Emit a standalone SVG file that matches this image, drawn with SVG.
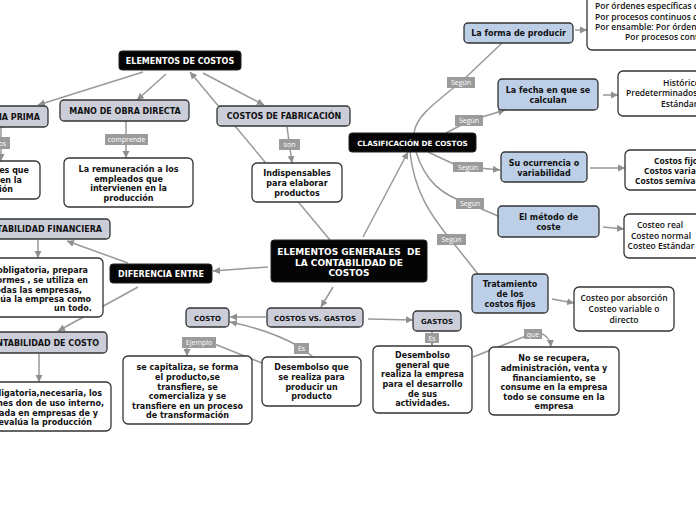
<svg xmlns="http://www.w3.org/2000/svg" width="696" height="520" viewBox="0 0 696 520">
<defs>
<marker id="ar" markerUnits="userSpaceOnUse" markerWidth="8" markerHeight="8" refX="7" refY="4" orient="auto">
<path d="M0,0.5 L7,4 L0,7.5 z" fill="#8f8f8f"/>
</marker>
</defs>
<style>
.c{fill:none;stroke:#999;stroke-width:1.5}
.a{marker-end:url(#ar)}
.blk{fill:#050505;stroke:#222;stroke-width:1}
.gry{fill:#cbcdd9;stroke:#333;stroke-width:1.3}
.blu{fill:#bccfe7;stroke:#333;stroke-width:1.3}
.wht{fill:#fff;stroke:#333;stroke-width:1.3}
.lab{fill:#9b9b9b}
text{font-family:"DejaVu Sans",Verdana,sans-serif;font-weight:bold;font-size:8px;fill:#111;text-anchor:middle}
.tw{fill:#fff}
.tl{font-family:"Open Sans","DejaVu Sans",sans-serif;font-weight:normal;font-size:7px;fill:#fff}
.tr{font-family:"Open Sans","DejaVu Sans",sans-serif;font-weight:600;font-size:8.5px;fill:#111}
.tb{font-family:"Open Sans","DejaVu Sans",sans-serif;font-weight:700;font-size:8.5px;fill:#111}
.s{text-anchor:start}
.e{text-anchor:end}
</style>
<rect width="696" height="520" fill="#fff"/>
<g id="connectors">
<path class="c a" d="M143,72 L38,105"/>
<path class="c a" d="M166,74 L137,100"/>
<path class="c a" d="M203,73 L264,105"/>
<path class="c a" d="M330,240 L190,72"/>
<path class="c a" d="M126,121 L126,158"/>
<path class="c a" d="M287,127 L292,163"/>
<path class="c a" d="M1,127 L1,161"/>
<path class="c a" d="M363,237 L408,152"/>
<path class="c" d="M414,133 C416,118 428,108 461,82 L502,43"/>
<path class="c a" d="M446,133 L469,121 L505,110"/>
<path class="c a" d="M428,152 L458,166 L500,170"/>
<path class="c" d="M416,152 C425,180 440,195 470,204 L498,216"/>
<path class="c" d="M410,152 C414,190 430,215 451,240 L478,274"/>
<path class="c a" d="M575,30 L587,30"/>
<path class="c a" d="M603,95 L618,95"/>
<path class="c a" d="M590,168 L625,168"/>
<path class="c a" d="M603,227 L624,229"/>
<path class="c a" d="M552,299 L574,303"/>
<path class="c a" d="M268,267 L213,271"/>
<path class="c a" d="M128,263 L67,241"/>
<path class="c a" d="M138,287 L58,331"/>
<path class="c a" d="M38,240 L38,258"/>
<path class="c a" d="M39,354 L39,382"/>
<path class="c a" d="M333,287 L321,307"/>
<path class="c a" d="M266,317 L230,317"/>
<path class="c a" d="M313,357 L300,347 Q270,330 230,322"/>
<path class="c a" d="M262,363 L212,343 L187,343 L187,356"/>
<path class="c a" d="M368,319 L413,320"/>
<path class="c a" d="M432,331 L432,346"/>
<path class="c" d="M473,357 L526,336"/>
<path class="c a" d="M540,333 Q550,336 551,347"/>
</g>
<g id="elementos-de-costos"><rect class="blk" x="119" y="51" width="122" height="19" rx="3"/><text class="tw" x="180" y="63.5">ELEMENTOS DE COSTOS</text></g>
<g id="materia-prima"><rect class="gry" x="-50" y="106" width="98" height="21" rx="4"/><text class="e" x="40" y="120">MATERIA PRIMA</text></g>
<g id="mano-de-obra"><rect class="gry" x="60" y="100" width="129" height="21" rx="4"/><text x="125" y="113.5">MANO DE OBRA DIRECTA</text></g>
<g id="costos-fabricacion"><rect class="gry" x="217" y="106" width="133" height="20" rx="4"/><text x="284" y="119">COSTOS DE FABRICACIÓN</text></g>
<g id="lab-comprende"><rect class="lab" x="105" y="134" width="43" height="11"/><text class="tl" x="126.5" y="142.2">comprende</text></g>
<g id="lab-son"><rect class="lab" x="279" y="139" width="21" height="11"/><text class="tl" x="289.5" y="147.2">son</text></g>
<g id="lab-mp"><rect class="lab" x="-25" y="137" width="35" height="12"/><text class="tl e" x="6" y="145.7">son los</text></g>
<g id="mp-desc"><rect class="wht" x="-60" y="161" width="100" height="38" rx="5"/><text class="e" x="29" y="173">materiales que</text><text class="e" x="22" y="183">intervienen en la</text><text class="e" x="13" y="192">producción</text></g>
<g id="remuneracion"><rect class="wht" x="64" y="158" width="129" height="49" rx="5"/><text x="128.5" y="172">La remuneración a los</text><text x="128.5" y="181.5">empleados que</text><text x="128.5" y="191">intervienen en la</text><text x="128.5" y="201">producción</text></g>
<g id="indispensables"><rect class="wht" x="252" y="163" width="90" height="39" rx="5"/><text x="297" y="176">Indispensables</text><text x="297" y="186">para elaborar</text><text x="297" y="195.5">productos</text></g>
<g id="cont-financiera"><rect class="gry" x="-40" y="219" width="150" height="20" rx="4"/><text class="e" x="102" y="232">CONTABILIDAD FINANCIERA</text></g>
<g id="fin-desc"><rect class="wht" x="-40" y="258" width="143" height="59" rx="5"/><text class="e" x="88" y="273">Es obligatoria, prepara</text><text class="e" x="88" y="283">informes , se utiliza en</text><text class="e" x="82" y="293">todas las empresas,</text><text class="e" x="91" y="302">evalúa la empresa como</text><text x="73" y="311">un todo.</text></g>
<g id="cont-costo"><rect class="gry" x="-40" y="332" width="147" height="21" rx="4"/><text class="e" x="99" y="345.5">CONTABILIDAD DE COSTO</text></g>
<g id="costo-desc"><rect class="wht" x="-40" y="382" width="151" height="49" rx="5"/><text class="e" x="102" y="396">Es obligatoria,necesaria, los</text><text class="e" x="104" y="406">informes don de uso interno,</text><text class="e" x="98" y="416">utilizada en empresas de y</text><text class="e" x="92" y="425">evalúa la producción</text></g>
<g id="diferencia"><rect class="blk" x="110" y="264" width="102" height="19" rx="3"/><text class="tw" x="161" y="276.5">DIFERENCIA ENTRE</text></g>
<g id="elementos-generales"><rect class="blk" x="271" y="240" width="156" height="42" rx="3"/><text class="tw" x="349" y="255" style="font-size:9px;white-space:pre" xml:space="preserve">ELEMENTOS GENERALES  DE</text><text class="tw" x="349" y="265.5" style="font-size:9px">LA CONTABILIDAD DE</text><text class="tw" x="349" y="276" style="font-size:9px">COSTOS</text></g>
<g id="costos-vs-gastos"><rect class="gry" x="267" y="308" width="96" height="19" rx="4"/><text x="315" y="320.5" style="font-size:7px">COSTOS VS. GASTOS</text></g>
<g id="costo"><rect class="gry" x="186" y="308" width="43" height="19" rx="4"/><text x="207.5" y="320.5" style="font-size:7px">COSTO</text></g>
<g id="gastos"><rect class="gry" x="413" y="311" width="48" height="20" rx="4"/><text x="437" y="323.5" style="font-size:7px">GASTOS</text></g>
<g id="lab-ejemplo"><rect class="lab" x="182" y="337" width="34" height="11"/><text class="tl" x="199" y="345.2">Ejemplo</text></g>
<g id="lab-es1"><rect class="lab" x="294" y="343" width="15" height="11"/><text class="tl" x="301.5" y="351.2">Es</text></g>
<g id="capitaliza"><rect class="wht" x="123" y="356" width="129" height="68" rx="5"/><text x="187.5" y="370">se capitaliza, se forma</text><text x="187.5" y="380">el producto,se</text><text x="187.5" y="390">transfiere, se</text><text x="187.5" y="399">comercializa y se</text><text x="187.5" y="408.5">transfiere en un proceso</text><text x="187.5" y="418">de transformación</text></g>
<g id="desembolso-que"><rect class="wht" x="262" y="357" width="99" height="49" rx="5"/><text x="311.5" y="370">Desembolso que</text><text x="311.5" y="380">se realiza para</text><text x="311.5" y="390">producir un</text><text x="311.5" y="399">producto</text></g>
<g id="lab-es2"><rect class="lab" x="425" y="333" width="14" height="10"/><text class="tl" x="432" y="340.7">Es</text></g>
<g id="desembolso-general"><rect class="wht" x="373" y="346" width="99" height="67" rx="5"/><text x="422.5" y="358">Desembolso</text><text x="422.5" y="367.5">general que</text><text x="422.5" y="377">realiza la empresa</text><text x="422.5" y="387">para el desarrollo</text><text x="422.5" y="396.5">de sus</text><text x="422.5" y="406">actividades.</text></g>
<g id="lab-que"><rect class="lab" x="524" y="329" width="18" height="10"/><text class="tl" x="533" y="336.7">que</text></g>
<g id="no-recupera"><rect class="wht" x="489" y="347" width="130" height="68" rx="5"/><text x="554" y="361">No se recupera,</text><text x="554" y="371">administración, venta y</text><text x="554" y="381">financiamiento, se</text><text x="554" y="390">consume en la empresa</text><text x="554" y="400">todo se consume en la</text><text x="554" y="409">empresa</text></g>
<g id="clasificacion"><rect class="blk" x="349" y="133" width="127" height="19" rx="3"/><text class="tw" x="412.5" y="145.5" style="font-size:7.2px">CLASIFICACIÓN DE COSTOS</text></g>
<g id="forma"><rect class="blu" x="464" y="23" width="109" height="20" rx="4"/><text x="518.5" y="36">La forma de producir</text></g>
<g id="ordenes"><rect class="wht" x="587" y="-10" width="130" height="60" rx="5"/><text class="tr s" x="595" y="9">Por órdenes específicas de producción</text><text class="tr s" x="595" y="20">Por procesos continuos de producción</text><text class="tr s" x="595" y="30">Por ensamble: Por órdenes específicas</text><text class="tr s" x="625" y="40">Por procesos continuos</text></g>
<g id="lab-segun1"><rect class="lab" x="447" y="77" width="28" height="11"/><text class="tl" x="461" y="85.2">Según</text></g>
<g id="lab-segun2"><rect class="lab" x="455" y="115" width="28" height="11"/><text class="tl" x="469" y="123.2">Según</text></g>
<g id="lab-segun3"><rect class="lab" x="453" y="162" width="30" height="10"/><text class="tl" x="468" y="169.7">Según</text></g>
<g id="lab-segun4"><rect class="lab" x="456" y="198" width="28" height="11"/><text class="tl" x="470" y="206.2">Según</text></g>
<g id="lab-segun5"><rect class="lab" x="437" y="234" width="29" height="11"/><text class="tl" x="451.5" y="242.2">Según</text></g>
<g id="fecha"><rect class="blu" x="498" y="79" width="100" height="31" rx="4"/><text x="548" y="93">La fecha en que se</text><text x="548" y="103">calculan</text></g>
<g id="historico"><rect class="wht" x="618" y="71" width="100" height="45" rx="5"/><text class="tr s" x="663" y="86">Histórico</text><text class="tr s" x="626" y="96">Predeterminados: Estimados</text><text class="tr s" x="661" y="107">Estándar</text></g>
<g id="ocurrencia"><rect class="blu" x="501" y="152" width="86" height="30" rx="4"/><text x="544" y="166">Su ocurrencia o</text><text x="544" y="175.5">variabilidad</text></g>
<g id="costos-fijos"><rect class="wht" x="625" y="150" width="100" height="40" rx="5"/><text class="tb s" x="654" y="164">Costos fijos</text><text class="tb s" x="644" y="174">Costos variables</text><text class="tb s" x="635" y="184">Costos semivariables</text></g>
<g id="metodo"><rect class="blu" x="498" y="206" width="101" height="31" rx="4"/><text x="548.5" y="220">El método de</text><text x="548.5" y="230">coste</text></g>
<g id="costeo-real"><rect class="wht" x="624" y="214" width="80" height="44" rx="5"/><text class="tr" x="660" y="228">Costeo real</text><text class="tr" x="661" y="238.5">Costeo normal</text><text class="tr" x="661" y="249">Costeo Estándar</text></g>
<g id="tratamiento"><rect class="blu" x="472" y="274" width="76" height="39" rx="4"/><text x="510" y="287">Tratamiento</text><text x="510" y="297">de los</text><text x="510" y="306.5">costos fijos</text></g>
<g id="costeo-absorcion"><rect class="wht" x="574" y="287" width="100" height="44" rx="5"/><text class="tr" x="624" y="301">Costeo por absorción</text><text class="tr" x="624" y="312">Costeo variable o</text><text class="tr" x="624" y="323">directo</text></g>
</svg>
